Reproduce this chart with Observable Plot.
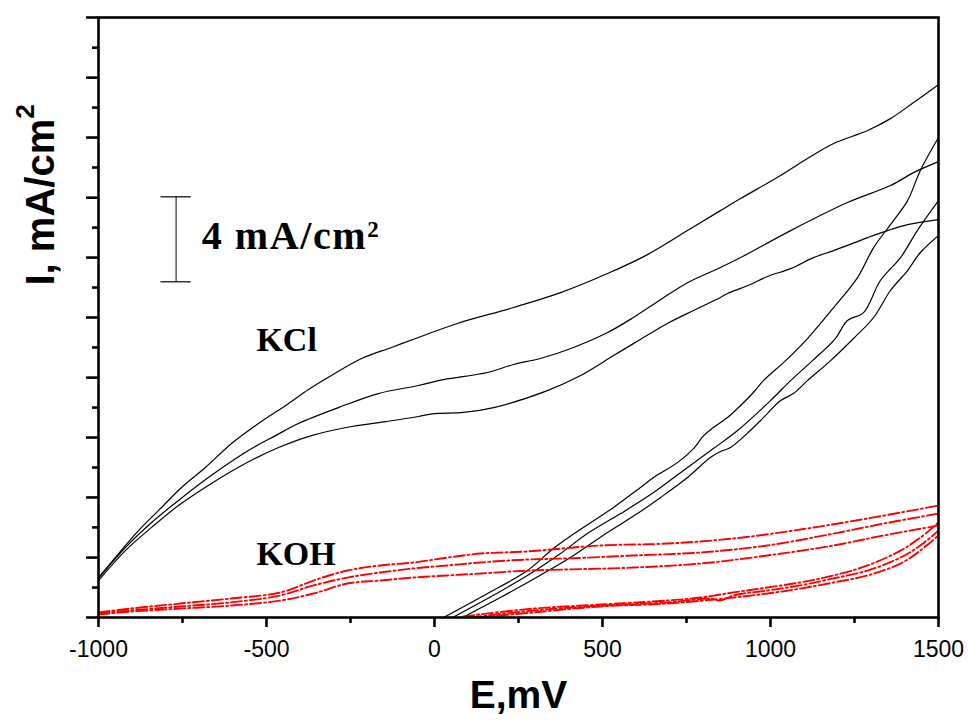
<!DOCTYPE html>
<html>
<head>
<meta charset="utf-8">
<script src="https://cdn.jsdelivr.net/npm/d3@7"></script>
<script src="https://cdn.jsdelivr.net/npm/@observablehq/plot@0.6"></script>
<style>
  html, body { margin: 0; padding: 0; background: #fff; }
  #chart { width: 968px; height: 720px; }
</style>
</head>
<body>
<div id="chart"></div>
<script>
// ---- Data: E (mV) vs I (mA/cm²) ----
// KCl: forward (anodic) branches of three cycles
const kclFwd1 = [[-1000,1.88],[-940,3.01],[-881,4.09],[-821,5.04],[-753,6.12],[-682,7.06],[-604,8.19],[-524,9.13],[-443,9.98],[-375,10.73],[-307,11.39],[-217,12.19],[-128,12.71],[-48,13.18],[68,13.84],[235,14.59],[375,15.29],[515,16.19],[634,17.08],[753,18.21],[851,19.15],[911,19.72],[1030,20.80],[1110,21.60],[1188,22.31],[1289,22.92],[1357,23.48],[1426,24.24],[1500,25.08]];
const kclFwd2 = [[-1000,1.84],[-920,3.29],[-842,4.47],[-762,5.51],[-673,6.59],[-554,7.86],[-473,8.56],[-405,9.13],[-286,9.88],[-167,10.54],[-48,10.92],[27,11.20],[158,11.53],[235,11.91],[315,12.19],[414,12.71],[515,13.41],[592,14.12],[673,14.96],[753,15.76],[851,16.47],[911,16.94],[1060,18.21],[1229,19.53],[1357,20.33],[1426,20.94],[1500,21.46]];
const kclFwd3 = [[-1000,1.74],[-920,3.15],[-842,4.24],[-762,5.27],[-664,6.31],[-563,7.25],[-464,8.00],[-366,8.56],[-247,8.99],[-146,9.22],[-48,9.46],[0,9.60],[86,9.65],[176,9.88],[336,10.68],[435,11.39],[533,12.33],[592,12.89],[693,13.84],[771,14.45],[851,15.06],[872,15.25],[940,15.67],[991,16.05],[1060,16.42],[1128,16.94],[1188,17.27],[1289,17.88],[1348,18.21],[1408,18.49],[1500,18.73]];
// KCl: return branches
const kclRev1 = [[27,0],[158,1.13],[277,2.21],[354,3.25],[443,4.24],[533,5.18],[613,6.12],[652,6.59],[723,7.29],[771,7.95],[801,8.56],[830,8.94],[872,9.41],[911,9.98],[949,10.59],[979,11.15],[1045,12.09],[1110,13.13],[1188,14.59],[1259,16.00],[1307,17.41],[1366,18.68],[1408,19.62],[1446,21.04],[1500,22.59]];
const kclRev2 = [[54,0],[158,0.89],[286,2.07],[375,3.01],[455,3.95],[554,4.89],[652,5.88],[741,6.92],[830,7.95],[902,8.80],[1000,10.21],[1060,11.15],[1125,12.09],[1193,13.13],[1229,13.98],[1277,14.35],[1327,15.86],[1387,16.94],[1437,18.21],[1500,19.62]];
const kclRev3 = [[83,0],[196,0.94],[324,2.07],[414,2.92],[515,4.00],[604,4.89],[673,5.65],[753,6.59],[821,7.53],[851,7.81],[881,8.00],[940,8.80],[979,9.41],[1030,10.21],[1068,10.54],[1110,11.15],[1179,12.09],[1247,13.13],[1307,14.12],[1357,15.39],[1408,16.33],[1446,17.18],[1500,17.98]];
// KOH: forward branches
const kohFwd1 = [[-1000,0.24],[-905,0.42],[-756,0.66],[-607,0.89],[-458,1.18],[-360,1.74],[-259,2.21],[-161,2.45],[-62,2.59],[39,2.82],[137,3.01],[277,3.11],[494,3.39],[693,3.48],[890,3.72],[1089,4.14],[1289,4.66],[1500,5.27]];
const kohFwd2 = [[-1000,0.19],[-905,0.33],[-756,0.52],[-607,0.71],[-458,1.04],[-360,1.51],[-259,1.88],[-161,2.12],[-62,2.31],[39,2.45],[137,2.59],[277,2.73],[396,2.78],[592,2.92],[792,3.06],[991,3.39],[1188,3.95],[1336,4.42],[1500,4.89]];
const kohFwd3 = [[-1000,0.14],[-905,0.28],[-756,0.42],[-607,0.56],[-458,0.80],[-360,1.13],[-259,1.60],[-161,1.74],[-62,1.88],[39,1.98],[137,2.07],[277,2.21],[396,2.26],[592,2.35],[792,2.54],[991,2.92],[1188,3.39],[1336,3.86],[1500,4.33]];
// KOH: return branches
const kohRev1 = [[86,0.05],[295,0.42],[494,0.61],[693,0.80],[792,0.94],[890,1.18],[991,1.41],[1089,1.65],[1188,1.98],[1289,2.45],[1387,3.15],[1446,3.76],[1500,4.47]];
const kohRev2 = [[107,0],[295,0.33],[494,0.56],[693,0.71],[821,0.89],[851,0.80],[890,1.04],[991,1.27],[1089,1.51],[1188,1.84],[1289,2.21],[1387,2.82],[1446,3.39],[1500,4.09]];
const kohRev3 = [[131,0],[295,0.24],[494,0.52],[693,0.66],[890,0.94],[991,1.13],[1089,1.36],[1188,1.65],[1289,1.98],[1387,2.54],[1446,3.15],[1500,3.86]];

// ---- Axes ----
const xMajorTicks = [-1000, -500, 0, 500, 1000, 1500];
const xMinorTicks = [-750, -250, 250, 750, 1250];
const yMajorTicks = [0, 2.82, 5.65, 8.47, 11.29, 14.12, 16.94, 19.76, 22.59, 25.41, 28.24];
const yMinorTicks = [1.41, 4.24, 7.06, 9.88, 12.71, 15.53, 18.35, 21.18, 24.0, 26.82];
const xDomain = [-1000, 1500];
const yDomain = [0, 28.24];

// ---- Annotations ----
const electrolyteLabels = [
  {text: "KCl", E: -530, I: 12.54},
  {text: "KOH", E: -530, I: 2.45}
];
const scaleBar = {E: -769, from: 15.8, to: 19.8, label: "4 mA/cm²", labelE: -693, labelI: 17.36};
const xTitle = "E,mV";
const yTitle = "I, mA/cm²";

const series = [
  {id: "KCl-1f", electrolyte: "KCl", pts: kclFwd1},
  {id: "KCl-2f", electrolyte: "KCl", pts: kclFwd2},
  {id: "KCl-3f", electrolyte: "KCl", pts: kclFwd3},
  {id: "KCl-1r", electrolyte: "KCl", pts: kclRev1},
  {id: "KCl-2r", electrolyte: "KCl", pts: kclRev2},
  {id: "KCl-3r", electrolyte: "KCl", pts: kclRev3},
  {id: "KOH-1f", electrolyte: "KOH", pts: kohFwd1},
  {id: "KOH-2f", electrolyte: "KOH", pts: kohFwd2},
  {id: "KOH-3f", electrolyte: "KOH", pts: kohFwd3},
  {id: "KOH-1r", electrolyte: "KOH", pts: kohRev1},
  {id: "KOH-2r", electrolyte: "KOH", pts: kohRev2},
  {id: "KOH-3r", electrolyte: "KOH", pts: kohRev3}
];
const rows = series.flatMap(s => s.pts.map(([E, I]) => ({E, I, id: s.id, electrolyte: s.electrolyte})));

const serif = "'Liberation Serif', 'Times New Roman', serif";

const svg = Plot.plot({
  width: 968,
  height: 720,
  marginLeft: 98,
  marginRight: 30,
  marginTop: 17,
  marginBottom: 103,
  x: {domain: xDomain, label: null},
  y: {domain: yDomain, label: null},
  style: {fontFamily: "'Liberation Sans', Arial, sans-serif", background: "#fff", color: "#000", overflow: "visible"},
  marks: [
    Plot.line(rows.filter(d => d.electrolyte === "KCl"), {
      x: "E", y: "I", z: "id", stroke: "#000", strokeWidth: 1.2, curve: "catmull-rom", clip: true
    }),
    Plot.line(rows.filter(d => d.electrolyte === "KOH"), {
      x: "E", y: "I", z: "id", stroke: "#ff0000", strokeWidth: 1.9,
      strokeDasharray: "11,3,2,3", curve: "catmull-rom", clip: true
    }),
    Plot.frame({stroke: "#000", strokeWidth: 2.6}),
    Plot.axisX({ticks: xMajorTicks, tickSize: 10, tickPadding: 13, fontSize: 23, strokeWidth: 2.6,
      tickFormat: d => String(d), label: null}),
    Plot.axisX({ticks: xMinorTicks, tickSize: 6, strokeWidth: 2.6, fill: "none", label: null}),
    Plot.axisY({ticks: yMajorTicks, tickSize: 12, strokeWidth: 2.6, fill: "none", label: null}),
    Plot.axisY({ticks: yMinorTicks, tickSize: 6, strokeWidth: 2.6, fill: "none", label: null}),
    // scale bar
    Plot.ruleX([scaleBar], {x: "E", y1: "from", y2: "to", stroke: "#333", strokeWidth: 1.2}),
    Plot.ruleY([scaleBar.from, scaleBar.to], {y: d => d, x1: scaleBar.E - 45, x2: scaleBar.E + 45, stroke: "#000", strokeWidth: 1.2}),
    Plot.text([scaleBar], {x: "labelE", y: "labelI", text: "label", textAnchor: "start", lineAnchor: "bottom",
      fontFamily: serif, fontWeight: "bold", fontSize: 40, fill: "#000"}),
    // electrolyte labels
    Plot.text(electrolyteLabels, {x: "E", y: "I", text: "text", textAnchor: "start", lineAnchor: "bottom",
      fontFamily: serif, fontWeight: "bold", fontSize: 34, fill: "#000"}),
    // axis titles
    Plot.text([xTitle], {frameAnchor: "bottom", dy: 90, text: d => d, lineAnchor: "bottom",
      fontSize: 39, fontWeight: "bold", fill: "#000"}),
    Plot.text([yTitle], {frameAnchor: "left", dx: -45, dy: -32, text: d => d, rotate: -90,
      textAnchor: "start", lineAnchor: "bottom", fontSize: 40, fontWeight: "bold", fill: "#000"})
  ]
});

// render superscript "2" as a raised, smaller tspan
d3.select(svg).selectAll("text").each(function () {
  const t = this.textContent;
  if (t === yTitle) {
    this.textContent = t.slice(0, -1);
    d3.select(this).append("tspan").attr("dy", -20).attr("font-size", 26).text("2");
  } else if (t === scaleBar.label) {
    this.textContent = t.slice(0, -1);
    d3.select(this).style("letter-spacing", "1.6px");
    d3.select(this).append("tspan").attr("dy", -12).attr("font-size", 23).text("2");
  }
});

document.getElementById("chart").appendChild(svg);
</script>
</body>
</html>
